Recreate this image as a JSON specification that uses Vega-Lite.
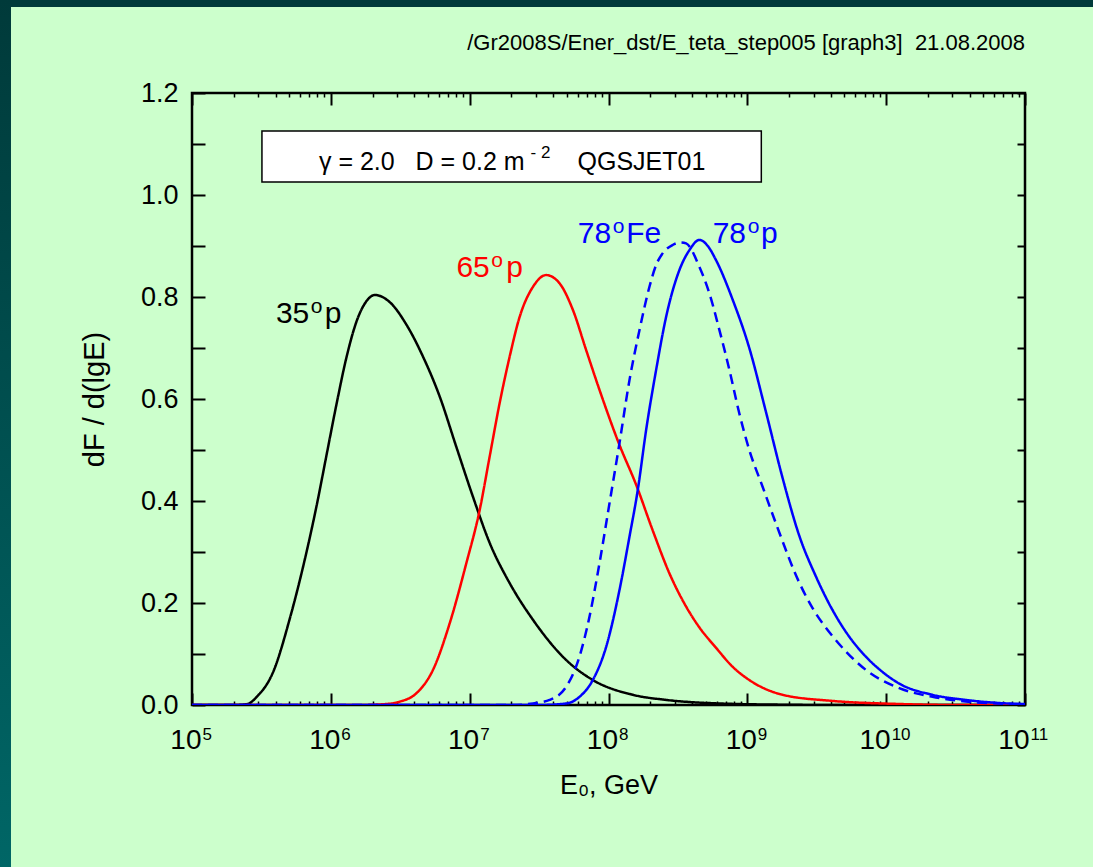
{
 "$schema": "https://vega.github.io/schema/vega-lite/v6.json",
 "padding": 0,
 "background": "#ccffcc",
 "config": {
  "view": {"stroke": null},
  "font": "Liberation Sans",
  "axis": {"labelFont": "Liberation Sans", "titleFont": "Liberation Sans", "labelColor": "black", "titleColor": "black", "tickColor": "black", "grid": false, "domain": false, "labelFlush": false, "labelOverlap": false}
 },
 "spacing": 0,
 "bounds": "flush",
 "hconcat": [
  {"width": 11, "height": 867, "data": {"values": []}, "mark": "point",
   "view": {"stroke": null, "fill": {"gradient": "linear", "x1": 0, "y1": 0, "x2": 0, "y2": 1, "stops": [{"offset": 0, "color": "#003a3a"}, {"offset": 1, "color": "#006666"}]}}},
  {"vconcat": [
    {"width": 1082, "height": 7, "data": {"values": []}, "mark": "point", "view": {"stroke": null, "fill": "#003a3a"}},
    {"hconcat": [
      {"width": 1, "height": 1, "data": {"values": []}, "mark": "point", "view": {"stroke": null}},
      {
       "width": 833, "height": 612,
       "view": {"stroke": "black", "strokeWidth": 2.5},
       "title": {"text": "/Gr2008S/Ener_dst/E_teta_step005 [graph3]\u00a0\u00a021.08.2008", "anchor": "end", "frame": "group", "fontSize": 22, "fontWeight": "normal", "font": "Liberation Sans", "color": "black", "offset": 24},
       "resolve": {"axis": {"x": "independent", "y": "independent"}},
       "layer": [
        {
         "data": {"values": [
          {"s":"35p","E":1e5,"v":0},{"s":"35p","E":2.0e5,"v":0},{"s":"35p","E":2.512e5,"v":0.002},{"s":"35p","E":2.924e5,"v":0.016},{"s":"35p","E":3.846e5,"v":0.065},{"s":"35p","E":5.070e5,"v":0.170},{"s":"35p","E":6.683e5,"v":0.300},{"s":"35p","E":7.889e5,"v":0.390},{"s":"35p","E":9.311e5,"v":0.490},{"s":"35p","E":1.099e6,"v":0.590},{"s":"35p","E":1.297e6,"v":0.682},{"s":"35p","E":1.531e6,"v":0.752},{"s":"35p","E":1.807e6,"v":0.792},{"s":"35p","E":2.075e6,"v":0.804},{"s":"35p","E":2.655e6,"v":0.790},{"s":"35p","E":3.499e6,"v":0.746},{"s":"35p","E":4.613e6,"v":0.683},{"s":"35p","E":6.081e6,"v":0.605},{"s":"35p","E":8.017e6,"v":0.506},{"s":"35p","E":1.057e7,"v":0.408},{"s":"35p","E":1.393e7,"v":0.318},{"s":"35p","E":1.941e7,"v":0.239},{"s":"35p","E":2.858e7,"v":0.167},{"s":"35p","E":4.966e7,"v":0.088},{"s":"35p","E":7.709e7,"v":0.049},{"s":"35p","E":1.496e8,"v":0.020},{"s":"35p","E":2.600e8,"v":0.010},{"s":"35p","E":6.310e8,"v":0.003},{"s":"35p","E":2e9,"v":0.0005},{"s":"35p","E":4e9,"v":0},{"s":"35p","E":1e11,"v":0},
          {"s":"65p","E":1e5,"v":0},{"s":"65p","E":1.585e6,"v":0},{"s":"65p","E":2.512e6,"v":0.002},{"s":"65p","E":3.133e6,"v":0.0065},{"s":"65p","E":4.130e6,"v":0.023},{"s":"65p","E":5.445e6,"v":0.069},{"s":"65p","E":7.178e6,"v":0.160},{"s":"65p","E":9.462e6,"v":0.278},{"s":"65p","E":1.180e7,"v":0.382},{"s":"65p","E":1.393e7,"v":0.487},{"s":"65p","E":1.644e7,"v":0.592},{"s":"65p","E":1.941e7,"v":0.683},{"s":"65p","E":2.291e7,"v":0.761},{"s":"65p","E":2.858e7,"v":0.820},{"s":"65p","E":3.556e7,"v":0.843},{"s":"65p","E":4.436e7,"v":0.827},{"s":"65p","E":5.534e7,"v":0.775},{"s":"65p","E":6.902e7,"v":0.696},{"s":"65p","E":8.610e7,"v":0.618},{"s":"65p","E":1.199e8,"v":0.510},{"s":"65p","E":1.581e8,"v":0.432},{"s":"65p","E":2.084e8,"v":0.342},{"s":"65p","E":2.748e8,"v":0.258},{"s":"65p","E":3.622e8,"v":0.193},{"s":"65p","E":4.519e8,"v":0.152},{"s":"65p","E":5.957e8,"v":0.112},{"s":"65p","E":7.834e8,"v":0.075},{"s":"65p","E":1.033e9,"v":0.049},{"s":"65p","E":1.795e9,"v":0.020},{"s":"65p","E":4.111e9,"v":0.008},{"s":"65p","E":1.230e10,"v":0.002},{"s":"65p","E":3.162e10,"v":0},{"s":"65p","E":1e11,"v":0},
          {"s":"78Fe","E":1e5,"v":0},{"s":"78Fe","E":2e7,"v":0},{"s":"78Fe","E":2.858e7,"v":0.003},{"s":"78Fe","E":3.767e7,"v":0.010},{"s":"78Fe","E":4.966e7,"v":0.036},{"s":"78Fe","E":6.180e7,"v":0.095},{"s":"78Fe","E":7.295e7,"v":0.173},{"s":"78Fe","E":8.610e7,"v":0.278},{"s":"78Fe","E":1.016e8,"v":0.395},{"s":"78Fe","E":1.199e8,"v":0.513},{"s":"78Fe","E":1.416e8,"v":0.637},{"s":"78Fe","E":1.671e8,"v":0.735},{"s":"78Fe","E":1.972e8,"v":0.820},{"s":"78Fe","E":2.198e8,"v":0.862},{"s":"78Fe","E":2.460e8,"v":0.886},{"s":"78Fe","E":2.897e8,"v":0.902},{"s":"78Fe","E":3.311e8,"v":0.907},{"s":"78Fe","E":3.622e8,"v":0.905},{"s":"78Fe","E":4.519e8,"v":0.859},{"s":"78Fe","E":5.333e8,"v":0.807},{"s":"78Fe","E":6.295e8,"v":0.735},{"s":"78Fe","E":7.430e8,"v":0.657},{"s":"78Fe","E":8.750e8,"v":0.572},{"s":"78Fe","E":1.033e9,"v":0.500},{"s":"78Fe","E":1.288e9,"v":0.428},{"s":"78Fe","E":1.607e9,"v":0.356},{"s":"78Fe","E":2.366e9,"v":0.240},{"s":"78Fe","E":2.951e9,"v":0.190},{"s":"78Fe","E":4.111e9,"v":0.135},{"s":"78Fe","E":5.129e9,"v":0.105},{"s":"78Fe","E":7.129e9,"v":0.069},{"s":"78Fe","E":1.242e10,"v":0.033},{"s":"78Fe","E":2.153e10,"v":0.016},{"s":"78Fe","E":3.733e10,"v":0.007},{"s":"78Fe","E":6.310e10,"v":0.003},{"s":"78Fe","E":1e11,"v":0.001},
          {"s":"78p","E":1e5,"v":0},{"s":"78p","E":3.162e7,"v":0},{"s":"78p","E":4.966e7,"v":0.003},{"s":"78p","E":6.180e7,"v":0.016},{"s":"78p","E":7.709e7,"v":0.049},{"s":"78p","E":9.616e7,"v":0.114},{"s":"78p","E":1.199e8,"v":0.225},{"s":"78p","E":1.416e8,"v":0.330},{"s":"78p","E":1.626e8,"v":0.422},{"s":"78p","E":1.866e8,"v":0.539},{"s":"78p","E":2.203e8,"v":0.657},{"s":"78p","E":2.600e8,"v":0.761},{"s":"78p","E":3.243e8,"v":0.853},{"s":"78p","E":3.828e8,"v":0.892},{"s":"78p","E":4.519e8,"v":0.912},{"s":"78p","E":5.188e8,"v":0.900},{"s":"78p","E":5.957e8,"v":0.872},{"s":"78p","E":7.834e8,"v":0.795},{"s":"78p","E":1.033e9,"v":0.700},{"s":"78p","E":1.361e9,"v":0.575},{"s":"78p","E":1.795e9,"v":0.445},{"s":"78p","E":2.366e9,"v":0.332},{"s":"78p","E":3.119e9,"v":0.252},{"s":"78p","E":4.111e9,"v":0.186},{"s":"78p","E":5.420e9,"v":0.134},{"s":"78p","E":7.129e9,"v":0.095},{"s":"78p","E":9.397e9,"v":0.065},{"s":"78p","E":1.242e10,"v":0.042},{"s":"78p","E":2.153e10,"v":0.020},{"s":"78p","E":3.733e10,"v":0.010},{"s":"78p","E":6.457e10,"v":0.004},{"s":"78p","E":1e11,"v":0.002}
         ]},
         "mark": {"type": "line", "strokeWidth": 2.5, "interpolate": "monotone", "clip": true},
         "encoding": {
          "x": {"field": "E", "type": "quantitative", "scale": {"type": "log", "domain": [1e5, 1e11], "nice": false},
                "axis": {"orient": "bottom", "values": [1e5, 1e6, 1e7, 1e8, 1e9, 1e10, 1e11], "labelExpr": "'10'", "labelFontSize": 28, "labelAlign": "right", "labelOffset": {"condition": {"test": "datum.value >= 1e10", "value": 4}, "value": 9}, "labelPadding": 33, "tickSize": -12, "tickWidth": 2,
                         "title": "E₀, GeV", "titleFontSize": 27, "titleFontWeight": "normal", "titlePadding": 18}},
          "y": {"field": "v", "type": "quantitative", "scale": {"domain": [0, 1.2], "nice": false},
                "axis": {"orient": "left", "values": [0, 0.1, 0.2, 0.3, 0.4, 0.5, 0.6, 0.7, 0.8, 0.9, 1.0, 1.1, 1.2], "labelExpr": "round(datum.value*10)%2==0 ? format(datum.value,'.1f') : ''", "labelFontSize": 27, "labelPadding": 27, "tickSize": -13, "tickWidth": 2,
                         "title": "dF / d(lgE)", "titleFontSize": 29, "titleFontWeight": "normal", "titlePadding": 31}},
          "color": {"field": "s", "type": "nominal", "scale": {"domain": ["35p", "65p", "78p", "78Fe"], "range": ["#000000", "#ff0000", "#0000ff", "#0000ff"]}, "legend": null},
          "strokeDash": {"field": "s", "type": "nominal", "scale": {"domain": ["35p", "65p", "78p", "78Fe"], "range": [[1, 0], [1, 0], [1, 0], [10, 6]]}, "legend": null}
         }
        },
        {
         "data": {"values": [
          {"s": "35p", "E": 4.021e5, "v": 0.749, "t": "35"},
          {"s": "65p", "E": 8.024e6, "v": 0.839, "t": "65"},
          {"s": "78Fe", "E": 6.013e7, "v": 0.906, "t": "78"},
          {"s": "78p", "E": 5.628e8, "v": 0.906, "t": "78"}
         ]},
         "mark": {"type": "text", "fontSize": 30, "align": "left", "baseline": "alphabetic", "font": "Liberation Sans"},
         "encoding": {
          "x": {"field": "E", "type": "quantitative", "scale": {"type": "log"},
                "axis": {"orient": "bottom", "values": [1e5, 1e6, 1e7, 1e8, 1e9, 1e10, 1e11], "labelExpr": "format(round(log(datum.value)/LN10),'d')", "labelFontSize": 17, "labelAlign": "left", "labelOffset": {"condition": {"test": "datum.value >= 1e10", "value": 5}, "value": 10}, "labelPadding": 21, "ticks": false, "title": null}},
          "y": {"field": "v", "type": "quantitative",
                "axis": {"orient": "right", "values": [0, 0.1, 0.2, 0.3, 0.4, 0.5, 0.6, 0.7, 0.8, 0.9, 1.0, 1.1, 1.2], "labels": false, "tickSize": -8, "tickWidth": 2, "title": null}},
          "text": {"field": "t"},
          "color": {"field": "s", "type": "nominal", "legend": null}
         }
        },
        {
         "data": {"values": [
          {"s": "35p", "E": 7.180e5, "v": 0.7686, "t": "o"},
          {"s": "65p", "E": 1.4327e7, "v": 0.8588, "t": "o"},
          {"s": "78Fe", "E": 1.0737e8, "v": 0.9255, "t": "o"},
          {"s": "78p", "E": 1.0051e9, "v": 0.9255, "t": "o"}
         ]},
         "mark": {"type": "text", "fontSize": 21, "align": "left", "baseline": "alphabetic", "font": "Liberation Sans"},
         "encoding": {
          "x": {"field": "E", "type": "quantitative", "scale": {"type": "log"}, "axis": null},
          "y": {"field": "v", "type": "quantitative", "axis": null},
          "text": {"field": "t"},
          "color": {"field": "s", "type": "nominal", "legend": null}
         }
        },
        {
         "data": {"values": [
          {"s": "35p", "E": 9.056e5, "v": 0.749, "t": "p"},
          {"s": "65p", "E": 1.8366e7, "v": 0.839, "t": "p"},
          {"s": "78Fe", "E": 1.341e8, "v": 0.906, "t": "Fe"},
          {"s": "78p", "E": 1.2555e9, "v": 0.906, "t": "p"}
         ]},
         "mark": {"type": "text", "fontSize": 30, "align": "left", "baseline": "alphabetic", "font": "Liberation Sans"},
         "encoding": {
          "x": {"field": "E", "type": "quantitative", "scale": {"type": "log"}, "axis": null},
          "y": {"field": "v", "type": "quantitative", "axis": null},
          "text": {"field": "t"},
          "color": {"field": "s", "type": "nominal", "legend": null}
         }
        },
        {
         "data": {"values": [{"x1": 3.19e5, "x2": 1.261e9, "y1": 1.0255, "y2": 1.1255}]},
         "mark": {"type": "rect", "fill": "white", "stroke": "black", "strokeWidth": 1.5},
         "encoding": {
          "x": {"field": "x1", "type": "quantitative", "scale": {"type": "log"},
                "axis": {"orient": "bottom", "values": [2e5,3e5,4e5,5e5,6e5,7e5,8e5,9e5,2e6,3e6,4e6,5e6,6e6,7e6,8e6,9e6,2e7,3e7,4e7,5e7,6e7,7e7,8e7,9e7,2e8,3e8,4e8,5e8,6e8,7e8,8e8,9e8,2e9,3e9,4e9,5e9,6e9,7e9,8e9,9e9,2e10,3e10,4e10,5e10,6e10,7e10,8e10,9e10], "labels": false, "tickSize": -4, "tickWidth": 1.5, "title": null}},
          "x2": {"field": "x2"},
          "y": {"field": "y1", "type": "quantitative", "axis": null},
          "y2": {"field": "y2"}
         }
        },
        {
         "data": {"values": [{"E": 2.487e7, "v": 1.049, "t": "γ = 2.0\u00a0\u00a0\u00a0D = 0.2 m"}]},
         "mark": {"type": "text", "fontSize": 25, "align": "right", "baseline": "alphabetic", "font": "Liberation Sans", "color": "black"},
         "encoding": {
          "x": {"field": "E", "type": "quantitative", "scale": {"type": "log"},
                "axis": {"orient": "top", "values": [1e5, 1e6, 1e7, 1e8, 1e9, 1e10, 1e11], "labels": false, "tickSize": -12, "tickWidth": 2, "title": null}},
          "y": {"field": "v", "type": "quantitative", "axis": null},
          "text": {"field": "t"}
         }
        },
        {
         "data": {"values": [{"E": 2.748e7, "v": 1.0725, "t": "- 2"}]},
         "mark": {"type": "text", "fontSize": 17, "align": "left", "baseline": "alphabetic", "font": "Liberation Sans", "color": "black"},
         "encoding": {
          "x": {"field": "E", "type": "quantitative", "scale": {"type": "log"},
                "axis": {"orient": "top", "values": [2e5,3e5,4e5,5e5,6e5,7e5,8e5,9e5,2e6,3e6,4e6,5e6,6e6,7e6,8e6,9e6,2e7,3e7,4e7,5e7,6e7,7e7,8e7,9e7,2e8,3e8,4e8,5e8,6e8,7e8,8e8,9e8,2e9,3e9,4e9,5e9,6e9,7e9,8e9,9e9,2e10,3e10,4e10,5e10,6e10,7e10,8e10,9e10], "labels": false, "tickSize": -4, "tickWidth": 1.5, "title": null}},
          "y": {"field": "v", "type": "quantitative", "axis": null},
          "text": {"field": "t"}
         }
        },
        {
         "data": {"values": [{"E": 5.98e7, "v": 1.049, "t": "QGSJET01"}]},
         "mark": {"type": "text", "fontSize": 25, "align": "left", "baseline": "alphabetic", "font": "Liberation Sans", "color": "black"},
         "encoding": {
          "x": {"field": "E", "type": "quantitative", "scale": {"type": "log"}, "axis": null},
          "y": {"field": "v", "type": "quantitative", "axis": null},
          "text": {"field": "t"}
         }
        }
       ]
      }
     ], "spacing": 180, "bounds": "flush"}
   ], "spacing": 86, "bounds": "flush"}
 ]
}
